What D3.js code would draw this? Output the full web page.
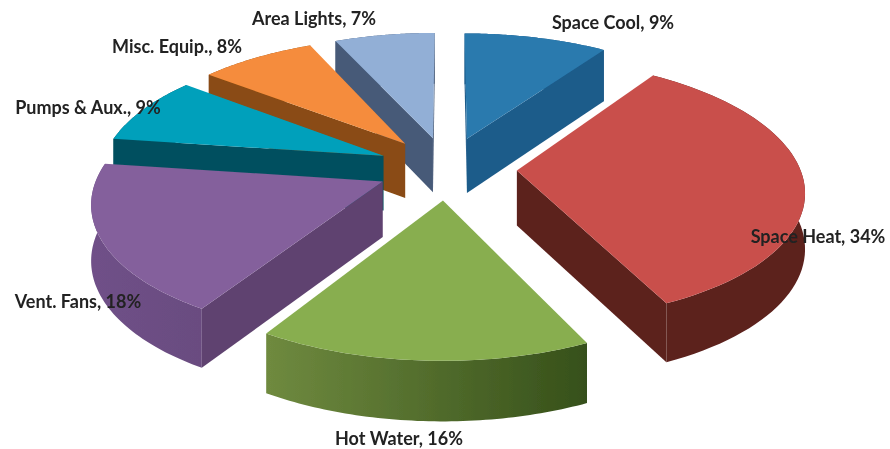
<!DOCTYPE html>
<html><head><meta charset="utf-8">
<script src="https://d3js.org/d3.v7.min.js"></script>
<style>html,body{margin:0;padding:0;background:#fff}svg{display:block}text{font-family:Lato,"Open Sans",sans-serif;font-weight:700;font-size:18px;fill:#222}</style>
</head><body><svg id="c" width="890" height="449"></svg>
<script>
const categories=["Space Cool","Space Heat","Hot Water","Vent. Fans","Pumps & Aux.","Misc. Equip.","Area Lights"];
// percentages as printed on the labels
const values=[9,34,16,18,9,8,7];
// wedge sizes as drawn (labels are rounded and sum to 101)
const drawnShares=[9.53,33.42,15.89,18.39,8.39,7.73,6.66];
const topColors=["#2a7aae","#c9504c","#88ae50","#84609c","#03a0bb","#f58c3c","#92afd6"];
const sideColors=["#1e5b8a","#5c201c","#6f8a3f","#5f4270","#05505f","#8a4c12","#465a78"];
const wallLeft=["#1e5b8a","#5c201c","#6f8a3f","#6f5088","#05505f","#8a4c12","#465a78"];
const wallRight=["#1e5b8a","#5c201c","#36501a","#6a4c80","#05505f","#8a4c12","#465a78"];
const labelX=[613,818,399,78,88,177,314];
const labelY=[29,243,445,308,114,53,25];

const cx=447,cy=168,Rx=283,Ry=127.7,persp=0.14,pull=0.247,depth=55;
const svg=d3.select("#c");
const defs=svg.append("defs");
defs.append("filter").attr("id","soft").append("feGaussianBlur").attr("stdDeviation",0.4);
const chart=svg.append("g").attr("filter","url(#soft)");
const pie=d3.pie().sort(null).value(d=>d)(drawnShares);
const scale=py=>1/(1-persp*py);
const sx=d3.scaleLinear().domain([0,1]).range([cx,cx+Rx]);
const sy=d3.scaleLinear().domain([0,1]).range([cy,cy+Ry]);
const proj=(p,drop)=>{const s=scale(p[1]);return [sx(p[0]*s),sy(p[1]*s)+drop*Math.sqrt(s)];};
const line=d3.line().curve(d3.curveLinearClosed);

const slices=pie.map((d,i)=>{
  const mid=(d.startAngle+d.endAngle)/2;
  const apex=[pull*Math.sin(mid),-pull*Math.cos(mid)];
  const angs=d3.range(0,61).map(k=>d.startAngle+(d.endAngle-d.startAngle)*k/60);
  const rim=angs.map(a=>[apex[0]+Math.sin(a),apex[1]-Math.cos(a)]);
  return {i,apex,rim};
});
const order=[6,0,5,4,1,3,2];
order.forEach(i=>{
  const s=slices[i],g=chart.append("g");
  const first=s.rim[0],last=s.rim[s.rim.length-1];
  const top=s.rim.map(p=>proj(p,0)),bot=s.rim.map(p=>proj(p,depth));
  const wall=top.concat(bot.slice().reverse());
  const [x0,x1]=d3.extent(wall,p=>p[0]);
  const grad=defs.append("linearGradient").attr("id","wall"+i).attr("gradientUnits","userSpaceOnUse")
    .attr("x1",x0).attr("x2",x1).attr("y1",0).attr("y2",0);
  grad.append("stop").attr("offset",0).attr("stop-color",wallLeft[i]);
  grad.append("stop").attr("offset",1).attr("stop-color",wallRight[i]);
  g.append("path").attr("d",line(wall)).attr("fill",`url(#wall${i})`);
  const face=p=>g.append("path")
    .attr("d",line([proj(s.apex,0),proj(p,0),proj(p,depth),proj(s.apex,depth)]))
    .attr("fill",sideColors[i]);
  const ax=proj(s.apex,0)[0];
  if(proj(first,0)[0]<ax) face(first);
  if(proj(last,0)[0]>ax) face(last);
  g.append("path").attr("d",line([s.apex,...s.rim].map(p=>proj(p,0)))).attr("fill",topColors[i]);
});
categories.forEach((c,i)=>{
  chart.append("text").attr("x",labelX[i]).attr("y",labelY[i]).attr("text-anchor","middle").text(`${c}, ${values[i]}%`);
});
</script></body></html>
